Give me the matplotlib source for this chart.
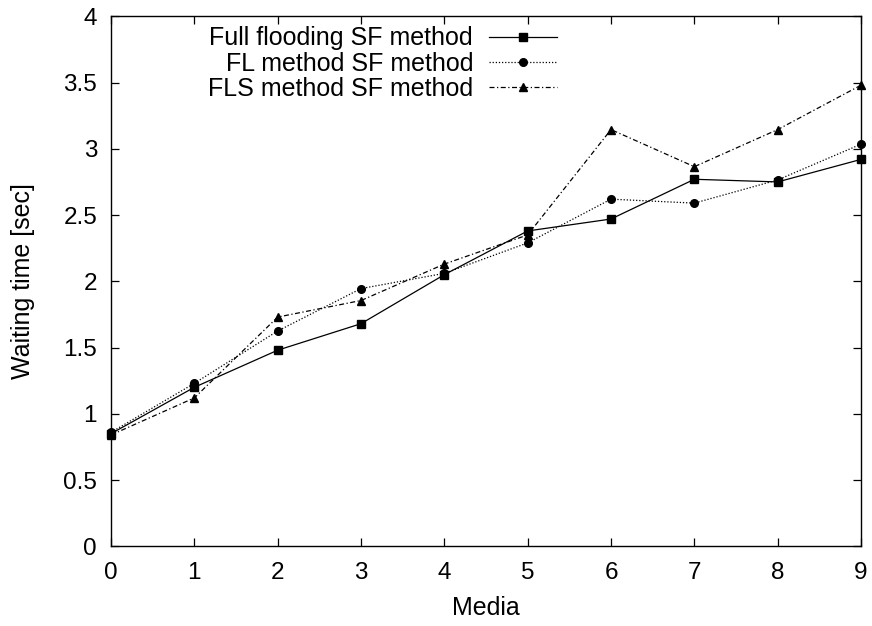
import matplotlib
matplotlib.use("Agg")
import matplotlib.pyplot as plt

plt.rcParams["font.family"] = ["Liberation Sans", "DejaVu Sans"]

media = [0, 1, 2, 3, 4, 5, 6, 7, 8, 9]
full_flooding = [0.85, 1.20, 1.48, 1.68, 2.05, 2.38, 2.47, 2.77, 2.75, 2.92]
fl_method = [0.86, 1.23, 1.625, 1.945, 2.06, 2.29, 2.62, 2.59, 2.765, 3.035]
fls_method = [0.84, 1.12, 1.73, 1.855, 2.13, 2.35, 3.145, 2.865, 3.145, 3.48]

labels = ["Full flooding SF method", "FL method SF method", "FLS method SF method"]
series = [full_flooding, fl_method, fls_method]
styles = [
    dict(linestyle="-", marker="s", markersize=5.5),
    dict(linestyle=(0, (1, 1.5)), marker="o", markersize=5.5),
    dict(linestyle=(0, (4, 2, 1, 2)), marker="^", markersize=5.5),
]

FS = 17.5
FS_TEXT = 18

fig = plt.figure(figsize=(8.72, 6.26), dpi=100)
ax = fig.add_axes([111 / 872, (626 - 546.3) / 626, 750 / 872, 530 / 626])

for vals, st in zip(series, styles):
    ax.plot(media, vals, color="black", linewidth=0.9, clip_on=False, **st)

ax.set_xlim(0, 9)
ax.set_ylim(0, 4)
ax.set_xticks(media)
ax.set_yticks([0, 0.5, 1, 1.5, 2, 2.5, 3, 3.5, 4])
ax.set_yticklabels(["0", "0.5", "1", "1.5", "2", "2.5", "3", "3.5", "4"])
ax.tick_params(direction="in", length=6, width=0.9, top=True, right=True,
               labelsize=FS)
ax.tick_params(axis="x", pad=11)
ax.tick_params(axis="y", pad=10)
for sp in ax.spines.values():
    sp.set_linewidth(1.0)

ax.set_xlabel("Media", fontsize=FS_TEXT)
ax.set_ylabel("Waiting time [sec]", fontsize=FS_TEXT)
ax.xaxis.set_label_coords(0.5, -0.0938)
ax.yaxis.set_label_coords(-0.1007, 0.5)

# key: right-aligned labels followed by line samples
text_right = 0.4827
line_x = [0.5040, 0.5947]
baselines = [0.9458, 0.8974, 0.8502]
for lab, st, yb in zip(labels, styles, baselines):
    ax.text(text_right, yb, lab, transform=ax.transAxes, ha="right",
            va="baseline", fontsize=FS_TEXT)
    ym = yb + 0.0155
    ax.plot(line_x, [ym, ym], transform=ax.transAxes, color="black",
            linewidth=0.9, linestyle=st["linestyle"], clip_on=False)
    ax.plot([sum(line_x) / 2], [ym], transform=ax.transAxes, color="black",
            marker=st["marker"], markersize=st["markersize"], clip_on=False)

fig.savefig("out.png", dpi=100)
